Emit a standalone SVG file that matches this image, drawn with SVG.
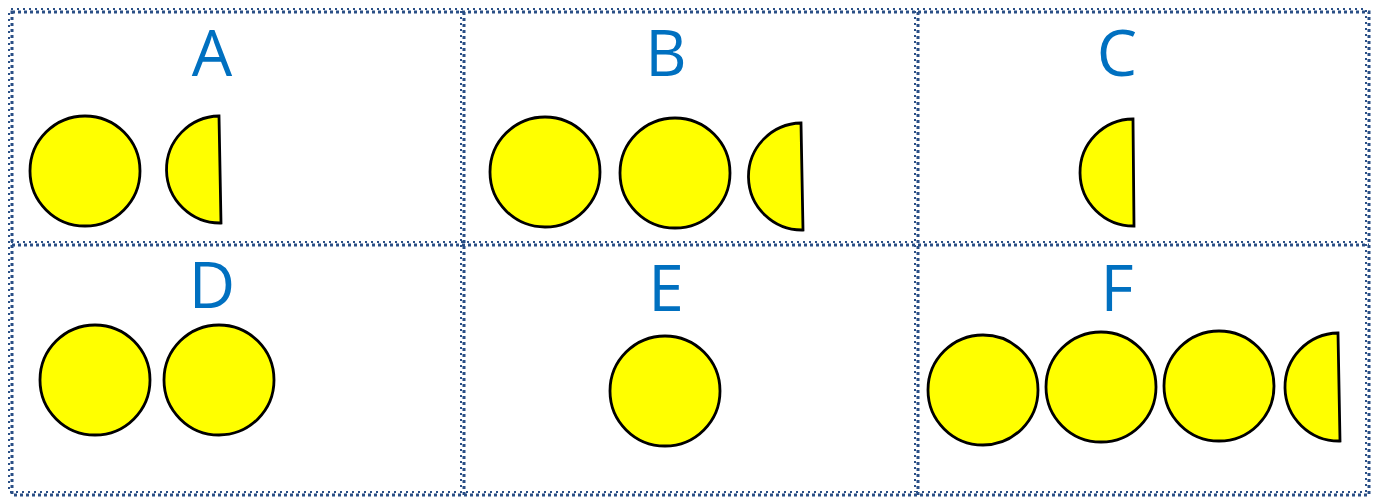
<svg xmlns="http://www.w3.org/2000/svg" width="1376" height="500" viewBox="0 0 1376 500">
<style>
.cell{fill:none;stroke:#2A4F86;stroke-width:3;stroke-dasharray:3 3}
.cell2{fill:none;stroke:#2A4F86;stroke-width:2;stroke-dasharray:2 4;stroke-dashoffset:4}
.ball{fill:#FFFF00;stroke:#000;stroke-width:2.8}
.lbl{font-family:"Open Sans","Liberation Sans",sans-serif;font-size:64px;fill:#0070C0;text-anchor:middle}
</style>
<rect width="1376" height="500" fill="#fff"/>
<g id="grid">
<rect class="cell" x="12" y="12" width="1357" height="483"/>
<line class="cell" x1="12" y1="245" x2="1369" y2="245"/>
<line class="cell" x1="464" y1="12" x2="464" y2="495"/>
<line class="cell" x1="918" y1="12" x2="918" y2="495"/>
<rect class="cell2" x="9" y="9" width="1357" height="483"/>
<line class="cell2" x1="9" y1="242" x2="1366" y2="242"/>
<line class="cell2" x1="461" y1="9" x2="461" y2="492"/>
<line class="cell2" x1="915" y1="9" x2="915" y2="492"/>
</g>
<g id="cellA"><text class="lbl" x="212" y="76">A</text>
<circle class="ball" cx="85" cy="171" r="55"/><path class="ball" d="M219,116 A53.5,53.5 0 0 0 221,223 Z"/></g>
<g id="cellB"><text class="lbl" x="666" y="76">B</text>
<circle class="ball" cx="545" cy="172" r="55"/><circle class="ball" cx="675" cy="173" r="55"/><path class="ball" d="M801,123 A53.5,53.5 0 0 0 803,230 Z"/></g>
<g id="cellC"><text class="lbl" x="1117" y="76">C</text>
<path class="ball" d="M1133,119 A53.5,53.5 0 0 0 1134,226 Z"/></g>
<g id="cellD"><text class="lbl" x="212" y="308">D</text>
<circle class="ball" cx="95" cy="380" r="55"/><circle class="ball" cx="219" cy="380" r="55"/></g>
<g id="cellE"><text class="lbl" x="666" y="311">E</text>
<circle class="ball" cx="665" cy="391" r="55"/></g>
<g id="cellF"><text class="lbl" x="1117" y="311">F</text>
<circle class="ball" cx="983" cy="390" r="55"/><circle class="ball" cx="1101" cy="387" r="55"/><circle class="ball" cx="1219" cy="386" r="55"/><path class="ball" d="M1338,333 A54,54 0 0 0 1340,441 Z"/></g>
</svg>
